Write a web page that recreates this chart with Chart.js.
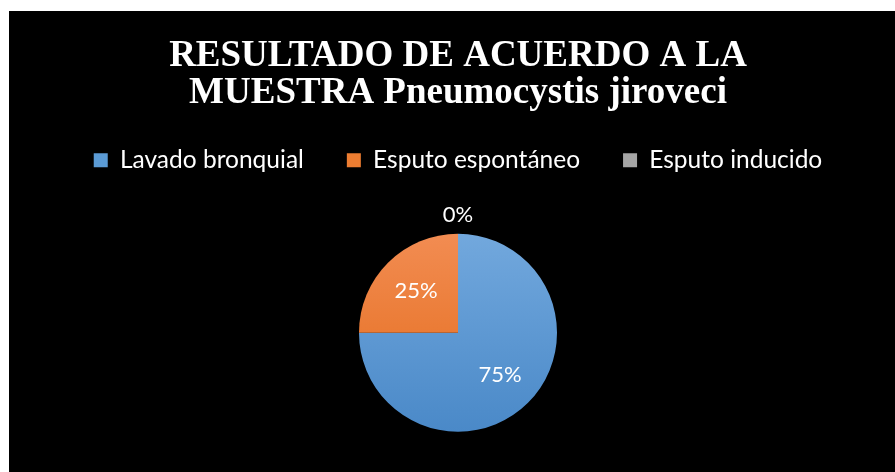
<!DOCTYPE html>
<html>
<head>
<meta charset="utf-8">
<script src="https://cdn.jsdelivr.net/npm/chart.js@4.4.1/dist/chart.umd.min.js"></script>
<style>
  html, body { margin: 0; padding: 0; background: #fff; }
  #wrap { position: absolute; left: 9px; top: 11px; width: 886px; height: 461px; background: #000; overflow: hidden; }
  #inner { position: relative; width: 886px; height: 472px; }
</style>
</head>
<body>
<div id="wrap"><div id="inner"><canvas id="chart"></canvas></div></div>
<script>
const titleLines = ["RESULTADO DE ACUERDO A LA", "MUESTRA Pneumocystis jiroveci"]
const categories = ["Lavado bronquial", "Esputo espontáneo", "Esputo inducido"]
const values = [75, 25, 0]
const colors = ["#5B9BD5", "#ED7D31", "#A5A5A5"]
const gradientStops = [["#72a8dd", "#4a89c8"], ["#f28c52", "#e36a18"], ["#b5b5b5", "#8f8f8f"]]
const pieRadius = 99

// vertical gradient over the pie itself (Excel style shading)
function sliceFill(context) {
  const chart = context.chart
  const area = chart.chartArea
  if (!area) return colors[context.dataIndex]
  const cy = (area.top + area.bottom) / 2
  const stops = gradientStops[context.dataIndex]
  const g = chart.ctx.createLinearGradient(0, cy - pieRadius, 0, cy + pieRadius)
  g.addColorStop(0, stops[0])
  g.addColorStop(1, stops[1])
  return g
}

// percentage labels drawn on / next to each slice
const pctLabels = {
  id: "pctLabels",
  afterDatasetsDraw(chart) {
    const ctx = chart.ctx
    const meta = chart.getDatasetMeta(0)
    const total = values.reduce((a, b) => a + b, 0)
    ctx.save()
    ctx.font = "22px Lato"
    ctx.fillStyle = "#ffffff"
    ctx.textAlign = "center"
    ctx.textBaseline = "middle"
    meta.data.forEach((arc, i) => {
      const p = arc.getProps(["x", "y", "startAngle", "endAngle", "outerRadius"], true)
      const mid = (p.startAngle + p.endAngle) / 2
      const r = values[i] === 0 ? p.outerRadius + 19 : p.outerRadius * 0.6
      const pct = Math.round(values[i] / total * 100) + "%"
      ctx.fillText(pct, p.x + Math.cos(mid) * r, p.y + Math.sin(mid) * r)
    })
    ctx.restore()
  }
}

new Chart(document.getElementById("chart"), {
  type: "pie",
  data: {
    labels: categories,
    datasets: [{
      data: values,
      backgroundColor: sliceFill,
      borderWidth: 0,
      radius: pieRadius
    }]
  },
  options: {
    responsive: true,
    maintainAspectRatio: false,
    animation: false,
    layout: { padding: { top: 0, left: 12, right: 0, bottom: 0 } },
    plugins: {
      title: {
        display: true,
        text: titleLines,
        color: "#ffffff",
        font: { family: "'Liberation Serif', 'Times New Roman', serif", size: 37, weight: "bold", lineHeight: 1.0 },
        padding: { top: 27, bottom: -7 }
      },
      legend: {
        position: "top",
        labels: {
          color: "#ffffff",
          font: { family: "Lato", size: 24.5 },
          boxWidth: 14,
          boxHeight: 14,
          padding: 43,
          generateLabels: () => categories.map((c, i) => ({
            text: c,
            fillStyle: colors[i],
            strokeStyle: colors[i],
            lineWidth: 0,
            fontColor: "#ffffff",
            index: i,
            hidden: false
          }))
        }
      },
      tooltip: { enabled: false }
    }
  },
  plugins: [pctLabels]
})
</script>
</body>
</html>
